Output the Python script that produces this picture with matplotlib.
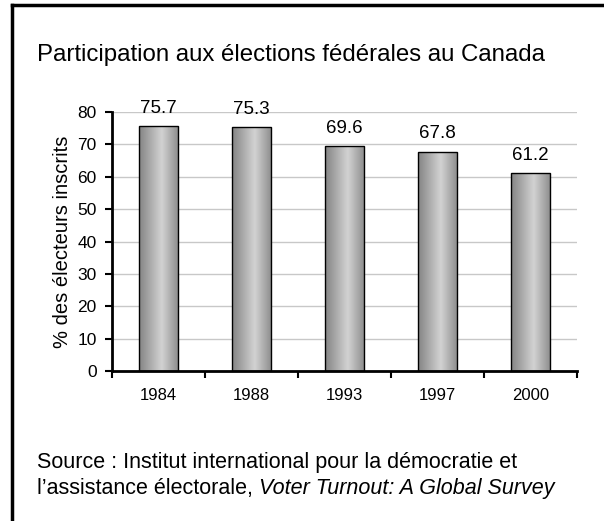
import numpy as np
import matplotlib.pyplot as plt
from matplotlib.lines import Line2D

plt.rcParams['font.family'] = ['Liberation Sans', 'DejaVu Sans']

years = ['1984', '1988', '1993', '1997', '2000']
turnout = [75.7, 75.3, 69.6, 67.8, 61.2]
yticks = [0, 10, 20, 30, 40, 50, 60, 70, 80]

fig = plt.figure(figsize=(6.04, 5.21), dpi=100)
ax = fig.add_axes([0.1854, 0.2879, 0.7699, 0.4971])

x = np.arange(len(years))
bars = ax.bar(x, turnout, width=0.42, color='none', edgecolor='black', linewidth=1.0, zorder=3)

# cylinder-like horizontal gradient inside each bar
grad = np.concatenate([np.linspace(0.52, 0.82, 40), np.linspace(0.82, 0.55, 30)])
grad = np.atleast_2d(grad)
for b in bars:
    x0, y0, w, h = b.get_x(), b.get_y(), b.get_width(), b.get_height()
    im = ax.imshow(grad, cmap='gray', vmin=0, vmax=1, aspect='auto',
                   extent=[x0, x0 + w, y0, y0 + h], zorder=2, interpolation='bicubic')
    im.set_clip_path(b)

for xi, v in zip(x, turnout):
    ax.text(xi, v + 2.8, f'{v:.1f}', ha='center', va='bottom', fontsize=13.5)

ax.set_xlim(-0.5, len(years) - 0.5)
ax.set_ylim(0, 80)
ax.set_yticks(yticks)
ax.set_xticks(x)
ax.set_xticklabels(years, fontsize=12)
ax.set_xticks(np.arange(len(years) + 1) - 0.5, minor=True)
ax.tick_params(axis='x', which='major', length=0, pad=12)
ax.tick_params(axis='x', which='minor', length=5, width=1.5, direction='out')
ax.tick_params(axis='y', length=5, width=1.5, direction='out', labelsize=12.5, pad=6)
ax.grid(axis='y', color='#c8c8c8', linewidth=1.0, zorder=0)
ax.set_axisbelow(True)
for s in ['top', 'right']:
    ax.spines[s].set_visible(False)
ax.spines['left'].set_linewidth(2)
ax.spines['bottom'].set_linewidth(2)
ax.set_ylabel('% des électeurs inscrits', fontsize=14.5, labelpad=4)

fig.text(0.061, 0.895, 'Participation aux élections fédérales au Canada', fontsize=17.3, va='center')
fig.text(0.061, 0.113, 'Source : Institut international pour la démocratie et', fontsize=15.5, va='center')
t = fig.text(0.061, 0.063, 'l\u2019assistance électorale, ', fontsize=15.5, va='center')

fig.canvas.draw()
bb = t.get_window_extent(renderer=fig.canvas.get_renderer())
x_it = bb.x1 / fig.bbox.width
fig.text(x_it, 0.063, 'Voter Turnout: A Global Survey', fontsize=15.5, style='italic', va='center')

# outer frame (left and top)
fig.add_artist(Line2D([0.0195, 0.0195], [0, 0.99], color='black', linewidth=2.5, transform=fig.transFigure))
fig.add_artist(Line2D([0.0195, 1.0], [0.99, 0.99], color='black', linewidth=2.5, transform=fig.transFigure))

fig.savefig('out.png', dpi=100)
